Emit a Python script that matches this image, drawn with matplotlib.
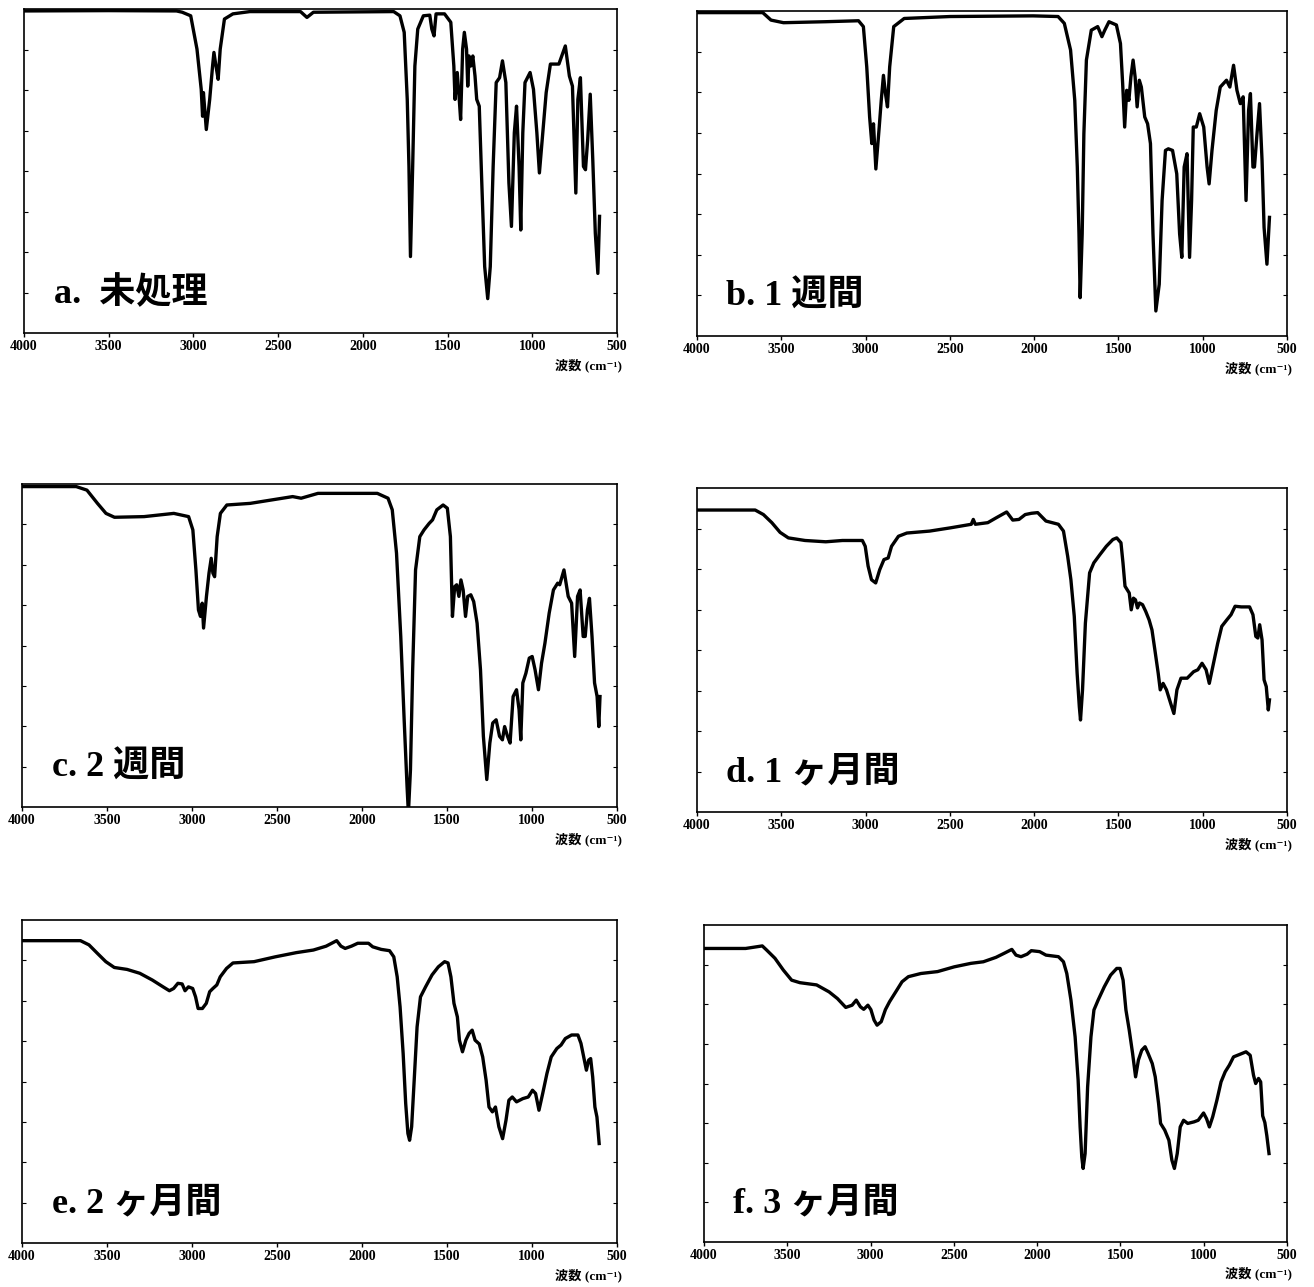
import matplotlib
matplotlib.use("Agg")
import matplotlib.pyplot as plt

# IR spectra (wavenumber cm-1, transmittance %) after different exposure times
spec_a = [(4000, 99.4), (3500, 99.5), (3100, 99.4), (3066, 99.0), (3016, 97.9), (2979, 87.6),
          (2954, 75.2), (2946, 66.9), (2941, 74.2), (2924, 62.8), (2904, 72.1), (2887, 82.4),
          (2879, 86.6), (2867, 82.4), (2854, 78.3), (2842, 87.6), (2817, 96.9), (2767, 98.5),
          (2667, 99.2), (2368, 99.2), (2330, 97.4), (2292, 99.0), (1818, 99.2), (1781, 97.9),
          (1756, 92.8), (1738, 72.1), (1728, 51.4), (1719, 23.6), (1706, 51.4), (1693, 82.4),
          (1676, 93.8), (1643, 97.9), (1605, 98.1), (1593, 93.8), (1580, 91.7), (1568, 98.5),
          (1518, 98.5), (1481, 95.9), (1463, 82.4), (1456, 72.1), (1443, 80.4), (1431, 72.1),
          (1423, 65.9), (1411, 87.6), (1401, 92.8), (1388, 87.6), (1381, 76.2), (1373, 85.5),
          (1363, 82.4), (1351, 85.5), (1338, 79.3), (1328, 72.1), (1313, 70.0), (1298, 46.3),
          (1281, 20.5), (1263, 10.6), (1248, 20.5), (1231, 51.4), (1213, 77.3), (1193, 78.8),
          (1176, 84.0), (1156, 77.3), (1138, 46.3), (1123, 32.9), (1106, 61.8), (1093, 70.0),
          (1078, 51.4), (1068, 31.8), (1056, 61.8), (1043, 77.3), (1013, 80.4), (993, 75.2),
          (973, 61.8), (958, 49.4), (938, 61.8), (918, 74.2), (893, 83.0), (843, 83.0),
          (805, 88.6), (781, 79.3), (763, 76.2), (743, 43.2), (731, 72.1), (716, 78.8),
          (698, 51.4), (686, 50.4), (673, 59.7), (658, 73.7), (643, 53.5), (628, 30.8),
          (613, 18.4), (603, 36.0)]

spec_b = [(4000, 99.5), (3610, 99.5), (3561, 97.2), (3487, 96.4), (3240, 96.7), (3042, 97.0),
          (3013, 95.2), (2993, 82.8), (2976, 67.4), (2963, 59.2), (2953, 65.3), (2939, 51.4),
          (2919, 64.3), (2907, 72.5), (2894, 80.2), (2882, 74.6), (2870, 70.5), (2857, 82.8),
          (2833, 95.2), (2771, 97.7), (2499, 98.3), (2006, 98.5), (1858, 98.3), (1821, 96.2),
          (1784, 88.0), (1759, 72.5), (1744, 52.0), (1734, 31.4), (1727, 11.8), (1715, 31.4),
          (1705, 62.2), (1690, 84.9), (1661, 94.1), (1623, 95.2), (1598, 92.1), (1581, 94.1),
          (1556, 96.7), (1512, 95.7), (1488, 90.0), (1475, 77.7), (1463, 64.3), (1451, 75.6),
          (1438, 72.5), (1426, 79.7), (1413, 84.9), (1401, 79.7), (1389, 70.5), (1376, 78.7),
          (1364, 76.6), (1344, 67.4), (1327, 65.3), (1310, 59.2), (1295, 31.4), (1278, 7.7),
          (1258, 15.9), (1241, 41.7), (1221, 57.1), (1204, 57.6), (1179, 57.1), (1154, 49.9),
          (1137, 31.4), (1124, 24.2), (1110, 52.0), (1093, 56.1), (1078, 24.2), (1066, 41.7),
          (1056, 64.3), (1038, 64.3), (1018, 68.4), (994, 64.3), (974, 52.0), (962, 46.8),
          (945, 57.1), (920, 69.4), (896, 76.6), (859, 78.7), (839, 76.6), (817, 83.3),
          (797, 75.6), (777, 71.5), (760, 73.6), (743, 41.7), (728, 69.4), (717, 74.6),
          (702, 52.0), (693, 52.0), (678, 62.2), (663, 71.5), (648, 54.0), (636, 33.4),
          (619, 22.1), (604, 36.5)]

spec_c = [(4000, 99.2), (3681, 99.2), (3618, 98.1), (3556, 94.0), (3506, 90.9), (3456, 89.7),
          (3282, 89.9), (3107, 90.9), (3020, 89.9), (2995, 85.8), (2977, 73.4), (2962, 61.0),
          (2950, 59.0), (2940, 63.1), (2932, 55.4), (2915, 65.2), (2900, 72.4), (2887, 77.0),
          (2877, 72.4), (2867, 71.3), (2852, 83.7), (2833, 90.9), (2795, 93.5), (2658, 94.0),
          (2408, 96.1), (2358, 95.6), (2259, 97.1), (1910, 97.1), (1847, 95.6), (1822, 92.0),
          (1797, 78.6), (1772, 52.8), (1752, 27.0), (1735, 6.4), (1727, -2.0), (1715, 11.5),
          (1702, 42.5), (1685, 73.4), (1660, 83.7), (1635, 85.8), (1605, 87.8), (1585, 88.9),
          (1560, 92.0), (1523, 93.5), (1498, 92.5), (1480, 83.7), (1468, 59.0), (1455, 68.2),
          (1443, 68.8), (1430, 65.2), (1418, 70.3), (1405, 67.2), (1391, 59.0), (1378, 65.2),
          (1360, 65.7), (1343, 63.6), (1323, 56.9), (1303, 42.5), (1286, 21.9), (1266, 8.5),
          (1248, 19.8), (1231, 26.0), (1211, 27.0), (1191, 21.9), (1174, 20.8), (1161, 24.9),
          (1144, 21.9), (1129, 19.8), (1111, 34.2), (1091, 36.3), (1076, 30.1), (1066, 20.8),
          (1054, 38.4), (1036, 41.4), (1016, 46.1), (999, 46.6), (982, 42.5), (962, 36.3),
          (944, 44.5), (924, 50.7), (899, 60.0), (874, 67.2), (849, 69.3), (837, 68.8),
          (812, 73.4), (787, 65.2), (767, 63.1), (749, 46.6), (732, 65.2), (717, 67.2),
          (699, 52.8), (687, 52.8), (674, 61.0), (662, 64.6), (647, 52.8), (632, 38.4),
          (617, 34.2), (607, 24.9), (600, 34.2)]

spec_d = [(4000, 93.2), (3655, 93.2), (3606, 91.8), (3556, 89.3), (3507, 86.3), (3458, 84.6),
          (3359, 83.8), (3236, 83.4), (3137, 83.8), (3019, 83.8), (3002, 82.0), (2985, 75.9),
          (2965, 71.7), (2940, 70.7), (2916, 74.8), (2891, 77.9), (2866, 78.4), (2846, 82.0),
          (2805, 85.1), (2755, 86.1), (2620, 86.7), (2497, 87.7), (2373, 88.8), (2361, 90.3),
          (2349, 88.8), (2275, 89.3), (2225, 90.8), (2163, 92.6), (2127, 90.1), (2090, 90.3),
          (2053, 91.8), (2016, 92.2), (1979, 92.4), (1930, 89.8), (1856, 88.8), (1826, 86.7),
          (1801, 78.9), (1782, 71.7), (1762, 60.4), (1745, 42.8), (1732, 32.5), (1725, 28.4),
          (1713, 37.7), (1696, 58.3), (1671, 73.8), (1646, 76.9), (1609, 79.5), (1572, 82.0),
          (1533, 84.1), (1510, 84.6), (1485, 83.1), (1473, 76.9), (1461, 69.7), (1448, 68.6),
          (1436, 67.6), (1424, 62.4), (1411, 66.0), (1399, 65.5), (1387, 63.0), (1375, 64.5),
          (1357, 64.0), (1338, 61.9), (1318, 59.3), (1301, 56.2), (1284, 50.1), (1264, 42.8),
          (1252, 37.7), (1235, 39.7), (1215, 37.7), (1190, 33.5), (1171, 30.4), (1153, 37.7),
          (1129, 41.3), (1092, 41.3), (1054, 43.3), (1029, 43.9), (1004, 45.9), (980, 43.9),
          (961, 39.7), (936, 45.9), (911, 52.1), (887, 57.3), (857, 59.3), (832, 60.9),
          (808, 63.5), (771, 63.3), (722, 63.3), (702, 60.9), (685, 54.2), (673, 53.7),
          (662, 57.8), (648, 53.1), (636, 40.8), (623, 38.7), (611, 31.5), (604, 34.6)]

spec_e = [(4000, 93.6), (3656, 93.6), (3606, 92.3), (3557, 89.7), (3507, 87.1), (3457, 85.3),
          (3382, 84.7), (3307, 83.5), (3233, 81.4), (3170, 79.3), (3133, 78.1), (3108, 78.8),
          (3083, 80.4), (3058, 80.2), (3041, 78.1), (3021, 79.3), (2996, 78.8), (2979, 76.2),
          (2964, 72.6), (2939, 72.6), (2916, 74.2), (2896, 77.8), (2877, 78.8), (2854, 79.9),
          (2834, 82.4), (2797, 85.0), (2759, 86.7), (2635, 87.1), (2510, 88.6), (2386, 89.9),
          (2286, 90.7), (2211, 91.9), (2149, 93.6), (2124, 91.9), (2099, 91.2), (2062, 91.9),
          (2025, 92.8), (1962, 92.8), (1937, 91.7), (1887, 90.9), (1838, 90.5), (1813, 88.6),
          (1793, 82.4), (1776, 73.1), (1758, 58.7), (1743, 43.2), (1730, 33.9), (1720, 31.8),
          (1708, 36.0), (1693, 50.4), (1676, 66.9), (1656, 76.2), (1626, 79.3), (1588, 83.0),
          (1551, 85.5), (1514, 87.1), (1494, 86.7), (1477, 82.4), (1459, 74.2), (1439, 70.0),
          (1427, 62.8), (1409, 59.2), (1389, 62.8), (1370, 64.9), (1352, 65.9), (1335, 62.8),
          (1310, 61.6), (1290, 57.6), (1270, 50.4), (1253, 42.1), (1233, 40.6), (1215, 42.1),
          (1195, 36.0), (1173, 32.3), (1153, 38.0), (1136, 44.2), (1116, 45.2), (1091, 43.7),
          (1054, 44.7), (1022, 45.2), (997, 47.3), (979, 46.3), (959, 41.1), (937, 46.3),
          (912, 52.5), (887, 57.6), (854, 60.2), (829, 61.3), (804, 63.3), (767, 64.4),
          (730, 64.4), (712, 61.8), (692, 56.6), (680, 53.5), (667, 56.6), (655, 57.1),
          (643, 51.4), (630, 42.1), (618, 39.0), (605, 30.8)]

spec_f = [(4000, 92.6), (3750, 92.6), (3650, 93.4), (3624, 92.1), (3574, 89.5), (3524, 85.8),
          (3474, 82.6), (3424, 81.8), (3324, 81.1), (3249, 78.9), (3199, 76.8), (3149, 74.0),
          (3111, 74.7), (3086, 76.3), (3061, 74.2), (3041, 73.4), (3016, 74.7), (2998, 73.3),
          (2979, 70.0), (2961, 68.4), (2936, 69.5), (2911, 73.3), (2886, 75.8), (2849, 78.9),
          (2811, 82.1), (2773, 83.7), (2698, 84.7), (2598, 85.3), (2498, 86.8), (2398, 87.9),
          (2323, 88.4), (2247, 89.8), (2197, 91.1), (2152, 92.3), (2127, 90.5), (2097, 90.0),
          (2060, 90.8), (2035, 91.9), (1985, 91.6), (1947, 90.5), (1872, 90.0), (1842, 88.4),
          (1822, 84.7), (1797, 76.3), (1772, 64.7), (1754, 51.1), (1742, 36.3), (1732, 26.8),
          (1724, 23.2), (1712, 27.9), (1697, 48.9), (1677, 64.7), (1659, 73.2), (1634, 76.3),
          (1597, 80.5), (1559, 84.2), (1522, 86.3), (1502, 86.3), (1484, 82.6), (1467, 73.2),
          (1447, 66.8), (1427, 59.5), (1409, 52.1), (1392, 57.4), (1372, 60.5), (1352, 61.6),
          (1334, 59.5), (1309, 56.3), (1291, 52.1), (1271, 43.7), (1259, 37.4), (1234, 35.3),
          (1209, 32.1), (1191, 25.8), (1176, 23.2), (1159, 27.9), (1141, 36.3), (1121, 38.4),
          (1096, 37.4), (1058, 37.9), (1033, 38.4), (1001, 40.7), (983, 38.9), (966, 36.3),
          (946, 39.5), (921, 44.7), (896, 50.5), (871, 53.7), (846, 55.8), (821, 58.4),
          (783, 59.2), (746, 60.0), (721, 58.9), (701, 52.6), (688, 50.0), (671, 51.6),
          (658, 50.5), (646, 39.8), (633, 37.7), (621, 33.5), (608, 27.9)]

labels = ["a.  未処理", "b. 1 週間", "c. 2 週間", "d. 1 ヶ月間", "e. 2 ヶ月間", "f. 3 ヶ月間"]
spectra = [spec_a, spec_b, spec_c, spec_d, spec_e, spec_f]
xticks = [4000, 3500, 3000, 2500, 2000, 1500, 1000, 500]

# panel boxes in pixels: left, top, right, bottom
boxes = [(24, 9, 617, 333), (697, 11, 1287, 336),
         (22, 484, 617, 807), (697, 488, 1287, 812),
         (22, 920, 617, 1243), (704, 925, 1287, 1242)]

W, H = 1314, 1287
serif = ["Liberation Serif", "Noto Sans CJK JP", "DejaVu Sans"]
cjk = ["Liberation Serif", "Noto Sans CJK JP"]

fig = plt.figure(figsize=(W / 100, H / 100), dpi=100)

for spec, lab, (l, t, r, b) in zip(spectra, labels, boxes):
    ax = fig.add_axes([l / W, 1 - b / H, (r - l) / W, (b - t) / H])
    wn = [p[0] for p in spec]
    tr = [p[1] for p in spec]
    ax.plot(wn, tr, color="black", lw=2.4, solid_joinstyle="round")
    ax.set_xlim(4000, 500)
    ax.set_ylim(0, 100)
    ax.set_xticks(xticks)
    ax.set_xticklabels([str(v) for v in xticks], fontfamily="Liberation Serif",
                       fontweight="bold", fontsize=10)
    ax.tick_params(axis="x", direction="out", length=3, width=1, pad=2)
    ax.set_yticks([12.5 * i for i in range(1, 8)])
    ax.set_yticklabels([])
    ax.tick_params(axis="y", direction="in", length=3, width=0.8, left=True, right=True)
    for s in ax.spines.values():
        s.set_linewidth(1.2)
    ax.text(0.05, 0.12, lab, transform=ax.transAxes, fontsize=26, fontweight="bold",
            family=cjk, va="center", ha="left")
    ax.text(1.008, -0.10, "波数 (cm⁻¹)", transform=ax.transAxes, fontsize=9.5,
            fontweight="bold", family=serif, va="center", ha="right")

fig.savefig("out.png", dpi=100)
